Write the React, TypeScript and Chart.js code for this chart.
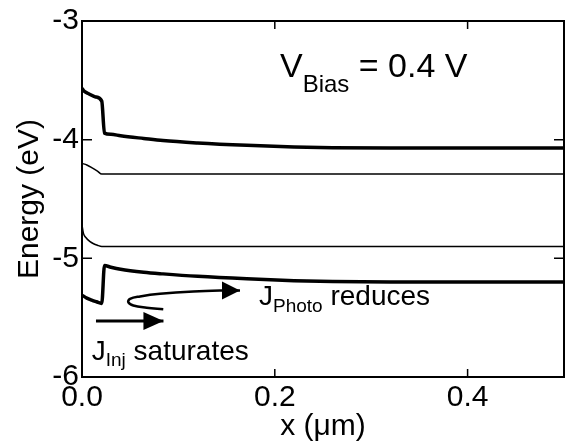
import React, { useEffect, useRef } from "react";
import { Chart, registerables } from "chart.js";

Chart.register(...registerables);

const FONT = "'Liberation Sans', Arial, Helvetica, sans-serif";

// Axis ticks
const xTickValues = [0, 0.2, 0.4];
const yTickValues = [-6, -5, -4, -3];

// Upper thick curve
const upperX = [0, 0.002, 0.007, 0.014, 0.0205, 0.0233, 0.03, 0.04, 0.064, 0.084, 0.12, 0.171, 0.22, 0.26, 0.32, 0.5];
const upperY = [-3.567, -3.59, -3.613, -3.64, -3.675, -3.945, -3.955, -3.967, -3.99, -4.008, -4.028, -4.048, -4.062, -4.068, -4.07, -4.07];

// Thin line 1
const thin1X = [0, 0.005, 0.011, 0.016, 0.0205, 0.5];
const thin1Y = [-4.2, -4.213, -4.24, -4.265, -4.29, -4.29];

// Thin line 2
const thin2X = [0, 0.0015, 0.004, 0.008, 0.012, 0.016, 0.0205, 0.5];
const thin2Y = [-4.72, -4.79, -4.825, -4.857, -4.877, -4.89, -4.9, -4.9];

// Lower thick curve
const lowerX = [0, 0.005, 0.01, 0.015, 0.0205, 0.0233, 0.03, 0.04, 0.064, 0.084, 0.12, 0.171, 0.22, 0.26, 0.32, 0.5];
const lowerY = [-5.31, -5.335, -5.352, -5.366, -5.38, -5.061, -5.075, -5.092, -5.117, -5.131, -5.152, -5.173, -5.188, -5.196, -5.2, -5.2];

// Straight arrow (J_Inj)
const injArrowX = [0.0145, 0.0845];
const injArrowY = [-5.528, -5.528];

// Curved arrow (J_Photo)
const photoArrowX = [0.0843, 0.0671, 0.0532, 0.048, 0.0498, 0.0602, 0.0809, 0.1155, 0.1466, 0.1639];
const photoArrowY = [-5.43, -5.416, -5.397, -5.369, -5.341, -5.321, -5.299, -5.279, -5.271, -5.271];

// Annotation texts
const annoMain = ["V", "J", "J"];
const annoSub = ["Bias", "Photo", "Inj"];
const annoRest = [" = 0.4 V", " reduces", " saturates"];
const annoX = [0.2054, 0.1836, 0.0101];
const annoY = [-3.469, -5.397, -5.858];

const annoStyle = [
  { size: 34, subSize: 24, drop: 15 },
  { size: 28, subSize: 19, drop: 7 },
  { size: 28, subSize: 19, drop: 6 },
];

const pts = (xs: number[], ys: number[]) => xs.map((x, i) => ({ x, y: ys[i] }));

export default function App() {
  const ref = useRef<HTMLCanvasElement>(null);

  useEffect(() => {
    if (!ref.current) return;

    const decor = {
      id: "decor",
      afterDatasetsDraw(chart: any) {
        const ctx = chart.ctx;
        chart.data.datasets.forEach((ds: any, i: number) => {
          if (!ds.arrow) return;
          const d = chart.getDatasetMeta(i).data;
          const tip = d[d.length - 1];
          const prev = d[d.length - 2];
          const a = Math.atan2(tip.y - prev.y, tip.x - prev.x);
          const L = ds.headLen, W = ds.headHalf;
          const bx = tip.x - L * Math.cos(a), by = tip.y - L * Math.sin(a);
          ctx.save();
          ctx.fillStyle = "#000";
          ctx.beginPath();
          ctx.moveTo(tip.x, tip.y);
          ctx.lineTo(bx - W * Math.sin(a), by + W * Math.cos(a));
          ctx.lineTo(bx + W * Math.sin(a), by - W * Math.cos(a));
          ctx.closePath();
          ctx.fill();
          ctx.restore();
        });
      },
      afterDraw(chart: any) {
        const ctx = chart.ctx;
        const { left, right, top, bottom } = chart.chartArea;
        const xs = chart.scales.x, ys = chart.scales.y;
        ctx.save();
        ctx.strokeStyle = "#000";
        ctx.lineWidth = 2;
        ctx.strokeRect(left, top, right - left, bottom - top);
        ctx.lineWidth = 1.5;
        ctx.beginPath();
        xs.ticks.forEach((t: any) => {
          const px = xs.getPixelForValue(t.value);
          ctx.moveTo(px, bottom);
          ctx.lineTo(px, bottom - 8);
          ctx.moveTo(px, top);
          ctx.lineTo(px, top + 8);
        });
        ys.ticks.forEach((t: any) => {
          const py = ys.getPixelForValue(t.value);
          ctx.moveTo(left, py);
          ctx.lineTo(left + 10, py);
          ctx.moveTo(right, py);
          ctx.lineTo(right - 10, py);
        });
        ctx.stroke();

        ctx.fillStyle = "#000";
        ctx.textAlign = "left";
        ctx.textBaseline = "alphabetic";
        annoMain.forEach((m, i) => {
          const st = annoStyle[i];
          let px = xs.getPixelForValue(annoX[i]);
          const py = ys.getPixelForValue(annoY[i]);
          ctx.font = `${st.size}px ${FONT}`;
          ctx.fillText(m, px, py);
          px += ctx.measureText(m).width;
          ctx.font = `${st.subSize}px ${FONT}`;
          ctx.fillText(annoSub[i], px, py + st.drop);
          px += ctx.measureText(annoSub[i]).width;
          ctx.font = `${st.size}px ${FONT}`;
          ctx.fillText(annoRest[i], px, py);
        });
        ctx.restore();
      },
    };

    const band = (xs: number[], ys: number[], w: number) => ({
      data: pts(xs, ys),
      borderColor: "#000",
      borderWidth: w,
      pointRadius: 0,
      fill: false,
      cubicInterpolationMode: "monotone",
    });

    const chart = new Chart(ref.current, {
      type: "line",
      data: {
        datasets: [
          band(upperX, upperY, 3.5) as any,
          band(thin1X, thin1Y, 1.5) as any,
          band(thin2X, thin2Y, 1.5) as any,
          band(lowerX, lowerY, 3.5) as any,
          {
            data: pts(injArrowX, injArrowY),
            borderColor: "#000",
            borderWidth: 3,
            pointRadius: 0,
            fill: false,
            tension: 0,
            arrow: true,
            headLen: 20,
            headHalf: 9,
          } as any,
          {
            data: pts(photoArrowX, photoArrowY),
            borderColor: "#000",
            borderWidth: 2.5,
            pointRadius: 0,
            fill: false,
            tension: 0.4,
            arrow: true,
            headLen: 18,
            headHalf: 9,
          } as any,
        ],
      },
      options: {
        responsive: false,
        animation: false,
        devicePixelRatio: 1,
        layout: { padding: { top: 19, right: 4, left: 0, bottom: 0 } },
        plugins: { legend: { display: false }, tooltip: { enabled: false } },
        scales: {
          x: {
            type: "linear",
            min: 0,
            max: 0.5,
            afterBuildTicks: (s: any) => {
              s.ticks = xTickValues.map((v) => ({ value: v }));
            },
            afterFit: (s: any) => {
              s.height = 68;
            },
            ticks: {
              callback: (v: any) => Number(v).toFixed(1),
              font: { family: FONT, size: 30 },
              color: "#000",
              padding: 3,
              maxRotation: 0,
              autoSkip: false,
            },
            grid: { display: false, drawTicks: false },
            border: { display: false },
            title: {
              display: true,
              text: "x (μm)",
              font: { family: FONT, size: 30 },
              color: "#000",
              padding: 0,
            },
          },
          y: {
            type: "linear",
            min: -6,
            max: -3,
            afterBuildTicks: (s: any) => {
              s.ticks = yTickValues.map((v) => ({ value: v }));
            },
            afterFit: (s: any) => {
              s.width = 82;
            },
            ticks: {
              callback: (v: any) => String(v),
              font: { family: FONT, size: 30 },
              color: "#000",
              padding: 3,
              autoSkip: false,
            },
            grid: { display: false, drawTicks: false },
            border: { display: false },
            title: {
              display: true,
              text: "Energy (eV)",
              font: { family: FONT, size: 30 },
              color: "#000",
              padding: 12,
            },
          },
        },
      } as any,
      plugins: [decor],
    });

    return () => chart.destroy();
  }, []);

  return (
    <div style={{ position: "fixed", left: 0, top: 0, width: 568, height: 445, background: "#fff" }}>
      <canvas ref={ref} width={568} height={445} style={{ display: "block" }} />
    </div>
  );
}
